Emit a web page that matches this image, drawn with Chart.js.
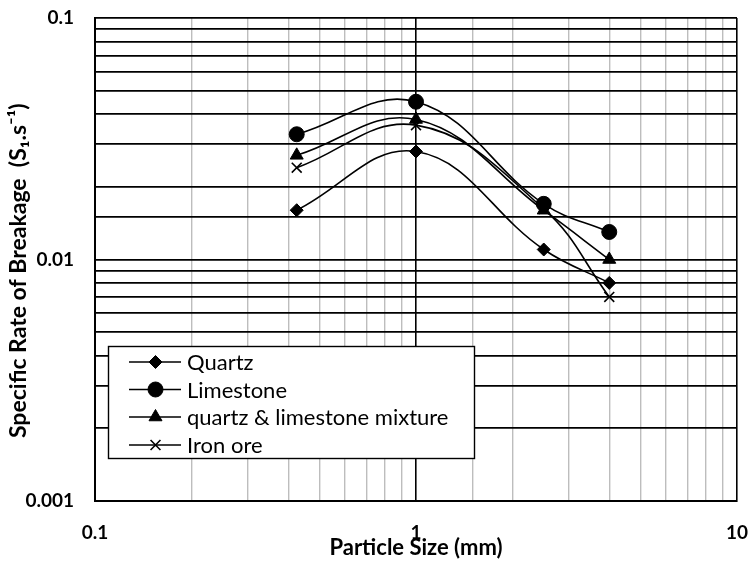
<!DOCTYPE html>
<html><head><meta charset="utf-8">
<script src="https://cdn.jsdelivr.net/npm/chart.js@4/dist/chart.umd.min.js"></script>
<style>html,body{margin:0;padding:0;background:#fff}#wrap{width:749px;height:561px;position:relative}</style>
</head><body><div id="wrap"><canvas id="c" width="749" height="561"></canvas></div>
<script>
const particleSize = [0.425, 1, 2.5, 4];
const quartz = [0.016, 0.028, 0.011, 0.008];
const limestone = [0.033, 0.045, 0.017, 0.013];
const mixture = [0.027, 0.038, 0.016, 0.010];
const ironOre = [0.024, 0.036, 0.0162, 0.007];
const seriesNames = ['Quartz', 'Limestone', 'quartz & limestone mixture', 'Iron ore'];
const seriesValues = [quartz, limestone, mixture, ironOre];
const markerStyles = ['rectRot', 'circle', 'triangle', 'crossRot'];
const markerSizes = [6.5, 7.5, 7.5, 7];
const xTickLabels = ['0.1', '1', '10'];
const yTickLabels = ['0.001', '0.01', '0.1'];

const FONT = 'Lato, "Open Sans", sans-serif';
const isDecade = v => Math.abs(Math.log10(v) - Math.round(Math.log10(v))) < 1e-6;
const fmt = (v, labels) => {
  if (!isDecade(v)) return '';
  const s = labels.find(l => Math.abs(parseFloat(l) - v) < 1e-9);
  return s || '';
};

const datasets = seriesNames.map((name, i) => ({
  label: name,
  data: particleSize.map((x, j) => ({x: x, y: seriesValues[i][j]})),
  borderColor: '#000',
  backgroundColor: '#000',
  borderWidth: 1.6,
  pointStyle: markerStyles[i],
  pointRadius: markerSizes[i],
  pointBorderWidth: markerStyles[i] === 'crossRot' ? 1.6 : 1,
  pointBorderColor: '#000',
  pointBackgroundColor: '#000',
  tension: 0.4,
  fill: false
}));

const legendPlugin = {
  id: 'insideLegend',
  afterDraw(chart) {
    const ctx = chart.ctx;
    const x0 = 108, y0 = 346, w = 366, h = 112;
    ctx.save();
    ctx.fillStyle = '#fff';
    ctx.fillRect(x0, y0, w, h);
    ctx.strokeStyle = '#000';
    ctx.lineWidth = 1.4;
    ctx.strokeRect(x0 + 0.5, y0 + 0.5, w, h);
    const rowY = [362, 389.5, 417, 445];
    seriesNames.forEach((name, i) => {
      const y = rowY[i];
      ctx.strokeStyle = '#000';
      ctx.lineWidth = 1.6;
      ctx.beginPath();
      ctx.moveTo(129, y);
      ctx.lineTo(181, y);
      ctx.stroke();
      ctx.fillStyle = '#000';
      ctx.lineWidth = markerStyles[i] === 'crossRot' ? 1.6 : 1;
      Chart.helpers.drawPoint(ctx, {pointStyle: markerStyles[i], radius: markerSizes[i], borderWidth: 1, rotation: 0}, 155.5, y);
      ctx.fillStyle = '#000';
      ctx.font = '22px ' + FONT;
      ctx.textBaseline = 'middle';
      ctx.textAlign = 'left';
      ctx.fillText(name, 187, y + 1, 270);
    });
    ctx.restore();
  }
};

const noPad = s => { s.paddingTop = 0; s.paddingBottom = 0; s.paddingLeft = 0; s.paddingRight = 0; };

new Chart(document.getElementById('c'), {
  type: 'line',
  data: {datasets},
  plugins: [legendPlugin],
  options: {
    responsive: false,
    animation: false,
    layout: {padding: {top: 18, right: 12, left: 0, bottom: 0}},
    plugins: {legend: {display: false}, tooltip: {enabled: false}},
    scales: {
      x: {
        type: 'logarithmic',
        min: 0.1, max: 10,
        position: 'bottom',
        border: {display: true, color: '#000', width: 2},
        grid: {
          drawTicks: false,
          color: c => (c.tick && isDecade(c.tick.value)) ? '#000' : '#bdbdbd',
          lineWidth: c => (c.tick && isDecade(c.tick.value)) ? 1.6 : 1.4
        },
        ticks: {
          autoSkip: false, maxRotation: 0, color: '#000', padding: 20,
          font: {family: FONT, size: 19, weight: 'bold'},
          callback: v => fmt(v, xTickLabels)
        },
        title: {display: true, text: 'Particle Size (mm)', color: '#000',
          font: {family: FONT, size: 22, weight: 'bold'}, padding: {top: 0, bottom: 0}},
        afterFit: s => { s.height = 60; noPad(s); }
      },
      y: {
        type: 'logarithmic',
        min: 0.001, max: 0.1,
        position: 'left',
        border: {display: true, color: '#000', width: 2},
        grid: {
          drawTicks: false,
          color: '#000',
          lineWidth: 1.8
        },
        ticks: {
          autoSkip: false, color: '#000', padding: 21,
          font: {family: FONT, size: 19, weight: 'bold'},
          callback: v => fmt(v, yTickLabels)
        },
        title: {display: true, text: 'Specific Rate of Breakage  (S\u2081.s\u207B\u00B9)\u00A0\u00A0\u00A0\u00A0', color: '#000',
          font: {family: FONT, size: 23, weight: 'bold'}, padding: {top: 5, bottom: 0}},
        afterFit: s => { s.width = 95; noPad(s); }
      }
    }
  }
});
</script>
</body></html>
